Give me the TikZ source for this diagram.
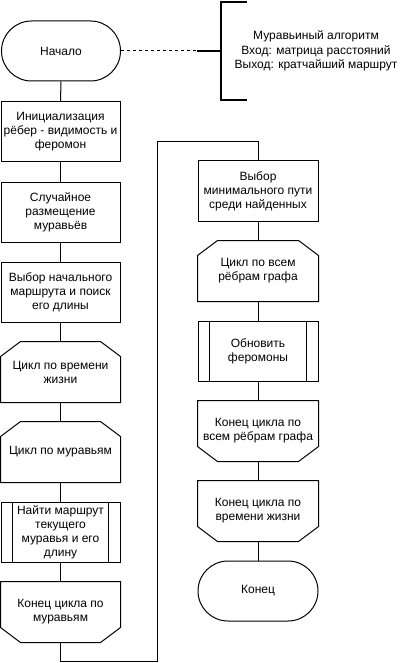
\documentclass[tikz,border=0pt]{standalone}
\usepackage{fontspec}
\setmainfont{Liberation Sans}
\usetikzlibrary{calc}
\begin{document}
\begin{tikzpicture}[x=1pt,y=-1pt,line width=1pt,
  base/.style={minimum width=119pt, minimum height=60pt, inner sep=0pt, align=center, font=\fontsize{12}{14}\selectfont},
  rbase/.style={base, minimum width=120pt},
  proc/.style={draw},
  term/.style={draw, rounded corners=30pt},
  note/.style={align=center, font=\fontsize{12}{14.5}\selectfont, inner sep=0pt},
  link/.style={line width=1pt},
  dashlink/.style={line width=1pt, dash pattern=on 3pt off 3pt},
  brk/.style={line width=2pt}]
\useasboundingbox (0,0) rectangle (407,663);

% left column
\node[base,term] (start) at (61,51) {Начало};
\node[base,proc] (b1) at (60.5,132) {Инициализация\\рёбер - видимость и\\феромон};
\node[base,proc] (b2) at (60.5,212) {Случайное\\размещение\\муравьёв};
\node[base,proc] (b3) at (60.5,292) {Выбор начального\\маршрута и поиск\\его длины};
\node[base] (c1) at (60.5,372) {Цикл по времени\\жизни};
\node[base] (c2) at (60.5,452) {Цикл по муравьям};
\node[base,proc] (p1) at (60.5,532) {Найти маршрут\\текущего\\муравья и его\\длину};
\node[base] (e1) at (60.5,612) {Конец цикла по\\муравьям};

% right column
\node[rbase,proc] (r1) at (258,191) {Выбор\\минимального пути\\среди найденных};
\node[rbase] (r2) at (258,271) {Цикл по всем\\рёбрам графа};
\node[rbase,proc] (r3) at (258,351) {Обновить\\феромоны};
\node[rbase] (r4) at (258,431) {Конец цикла по\\всем рёбрам графа};
\node[rbase] (r5) at (258,511) {Конец цикла по\\времени жизни};
\node[rbase,term] (fin) at (258,591) {Конец};

% loop start shapes
\foreach \n in {c1,c2,r2}
  \draw ([yshift=-15pt]\n.north west) -- ([xshift=20pt]\n.north west) -- ([xshift=-20pt]\n.north east) -- ([yshift=-15pt]\n.north east) -- (\n.south east) -- (\n.south west) -- cycle;
% loop end shapes
\foreach \n in {e1,r4,r5}
  \draw (\n.north west) -- (\n.north east) -- ([yshift=15pt]\n.south east) -- ([xshift=-20pt]\n.south east) -- ([xshift=20pt]\n.south west) -- ([yshift=15pt]\n.south west) -- cycle;
% predefined process bars
\foreach \n in {p1,r3} {
  \draw ([xshift=12pt]\n.north west) -- ([xshift=12pt]\n.south west);
  \draw ([xshift=-12pt]\n.north east) -- ([xshift=-12pt]\n.south east);
}

% connectors
\draw[link] (start) -- (b1);
\draw[link] (b1) -- (b2);
\draw[link] (b2) -- (b3);
\draw[link] (b3) -- (c1);
\draw[link] (c1) -- (c2);
\draw[link] (c2) -- (p1);
\draw[link] (p1) -- (e1);
\coordinate (k1) at (60.5,661);
\coordinate (k2) at (157,661);
\coordinate (k3) at (157,142);
\coordinate (k4) at (258,142);
\draw[link] (e1.south) -- (k1) -- (k2) -- (k3) -- (k4) -- (r1.north);
\draw[link] (r1) -- (r2);
\draw[link] (r2) -- (r3);
\draw[link] (r3) -- (r4);
\draw[link] (r4) -- (r5);
\draw[link] (r5) -- (fin);

% annotation
\coordinate (a1) at (197,51);
\coordinate (a2) at (221,51);
\coordinate (t1) at (247,2);
\coordinate (t2) at (221,2);
\coordinate (t3) at (221,100);
\coordinate (t4) at (247,100);
\draw[dashlink] (start.east) -- (a1);
\draw[brk] (a1) -- (a2);
\draw[brk] (t1) -- (t2) -- (t3) -- (t4);
\node[note] (ann) at (316,51) {Муравьиный алгоритм\\Вход: матрица расстояний\\Выход: кратчайший маршрут};
\end{tikzpicture}
\end{document}
